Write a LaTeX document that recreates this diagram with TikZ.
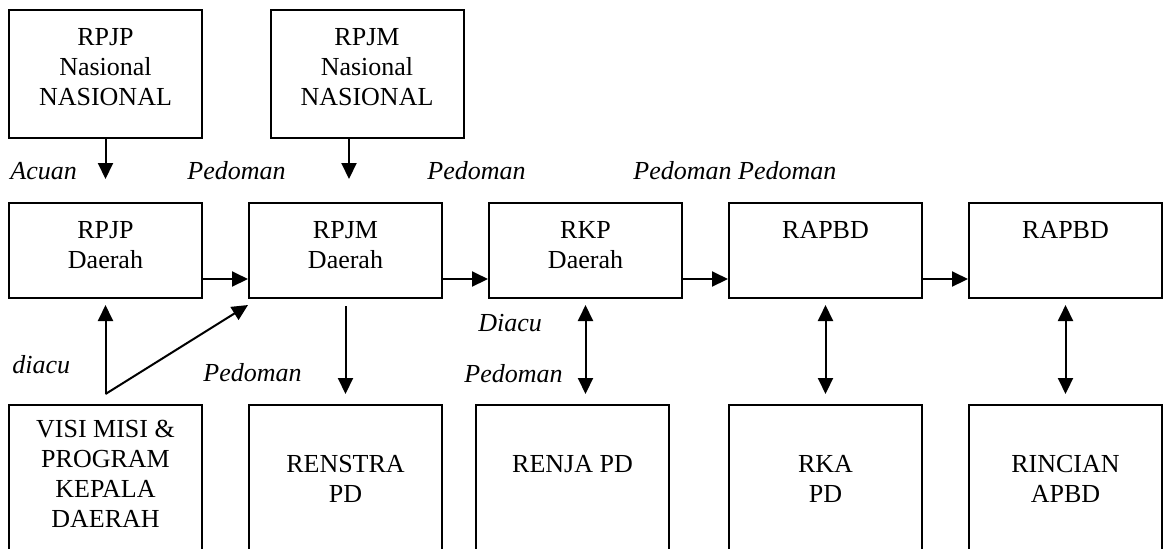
\documentclass[tikz,border=0pt]{standalone}
\usepackage{fontspec}
\setmainfont{Liberation Serif}
\usetikzlibrary{arrows.meta, positioning, calc}

\newcommand{\diagfont}{\fontsize{13}{15}\selectfont}

\begin{document}
\begin{tikzpicture}[
    x=0.5pt, y=-0.5pt,
    node distance=22.5pt,
    every node/.style={font=\diagfont},
    box/.style={rectangle, draw, line width=1pt, align=center, minimum width=96.5pt},
    topbox/.style={box, minimum height=64pt, text depth=6.6pt},
    midbox/.style={box, minimum height=47.5pt, text depth=5.5pt},
    lowbox/.style={box, inner ysep=25pt, text depth=80pt},
    note/.style={anchor=base west, inner sep=0pt, font=\diagfont\itshape},
    arrow/.style={-{Triangle[length=8pt, width=7.5pt]}, line width=1pt},
    twoway/.style={{Triangle[length=8pt, width=7.5pt]}-{Triangle[length=8pt, width=7.5pt]}, line width=1pt}
    ]
    \useasboundingbox (0,0) rectangle (1165,548);
    \clip (0,0) rectangle (1165,548);

    % middle row
    \node[midbox] (rpjpd) at (105.5,250.5) {RPJP\\Daerah};
    \node[midbox, right=of rpjpd] (rpjmd) {RPJM\\Daerah};
    \node[midbox, right=of rpjmd] (rkpd) {RKP\\Daerah};
    \node[midbox, right=of rkpd] (rapbda) {RAPBD\\~};
    \node[midbox, right=of rapbda] (rapbdb) {RAPBD\\~};

    % top row
    \node[topbox, above=31.5pt of rpjpd] (rpjpn) {RPJP\\Nasional\\NASIONAL};
    \node[topbox, above=31.5pt of rpjmd, xshift=10.75pt] (rpjmn) {RPJM\\Nasional\\NASIONAL};

    % bottom row (open at the lower edge)
    \node[lowbox, inner ysep=7.8pt, below=52.5pt of rpjpd] (visi) {VISI MISI \&\\PROGRAM\\KEPALA\\DAERAH};
    \node[lowbox, below=52.5pt of rpjmd] (renstra) {RENSTRA\\PD};
    \node[lowbox, below=52.5pt of rkpd, xshift=-6.5pt] (renja) {RENJA PD};
    \node[lowbox, below=52.5pt of rapbda] (rka) {RKA\\PD};
    \node[lowbox, below=52.5pt of rapbdb] (rincian) {RINCIAN\\APBD};

    % labels
    \node[note] (acuan) at (10,179) {Acuan};
    \node[note] (pedomana) at (187,179) {Pedoman};
    \node[note] (pedomanb) at (427,179) {Pedoman};
    \node[note] (pedomanc) at (633,179) {Pedoman Pedoman};
    \node[note] (diacua) at (12,373) {diacu};
    \node[note] (pedomand) at (203,381) {Pedoman};
    \node[note] (diacub) at (478,331) {Diacu};
    \node[note] (pedomane) at (464,382) {Pedoman};

    % arrows
    \draw[arrow, shorten >=11.5pt] (rpjpn) -- (rpjpd);
    \draw[arrow, shorten >=11.5pt] ([xshift=-9pt]rpjmn.south) -- ([xshift=-9pt]rpjmn.south |- rpjmd.north);

    \draw[arrow] ($(rpjpd.east)+(0,28.5)$) -- ($(rpjmd.west)+(0,28.5)$);
    \draw[arrow] ($(rpjmd.east)+(0,28.5)$) -- ($(rkpd.west)+(0,28.5)$);
    \draw[arrow] ($(rkpd.east)+(0,28.5)$) -- ($(rapbda.west)+(0,28.5)$);
    \draw[arrow] ($(rapbda.east)+(0,28.5)$) -- ($(rapbdb.west)+(0,28.5)$);

    \coordinate (vjoin) at ($(visi.north)+(0,-10)$);
    \draw[arrow, shorten >=3pt] (vjoin) -- (vjoin |- rpjpd.south);
    \draw[arrow] (vjoin) -- ([yshift=-3pt]rpjmd.south west);

    \draw[arrow, shorten <=3.5pt, shorten >=5pt] (rpjmd.south) -- (renstra.north);
    \draw[twoway, shorten <=3pt, shorten >=5pt] (rkpd.south) -- (rkpd.south |- renja.north);
    \draw[twoway, shorten <=3pt, shorten >=5pt] (rapbda.south) -- (rka.north);
    \draw[twoway, shorten <=3pt, shorten >=5pt] (rapbdb.south) -- (rincian.north);
\end{tikzpicture}
\end{document}
